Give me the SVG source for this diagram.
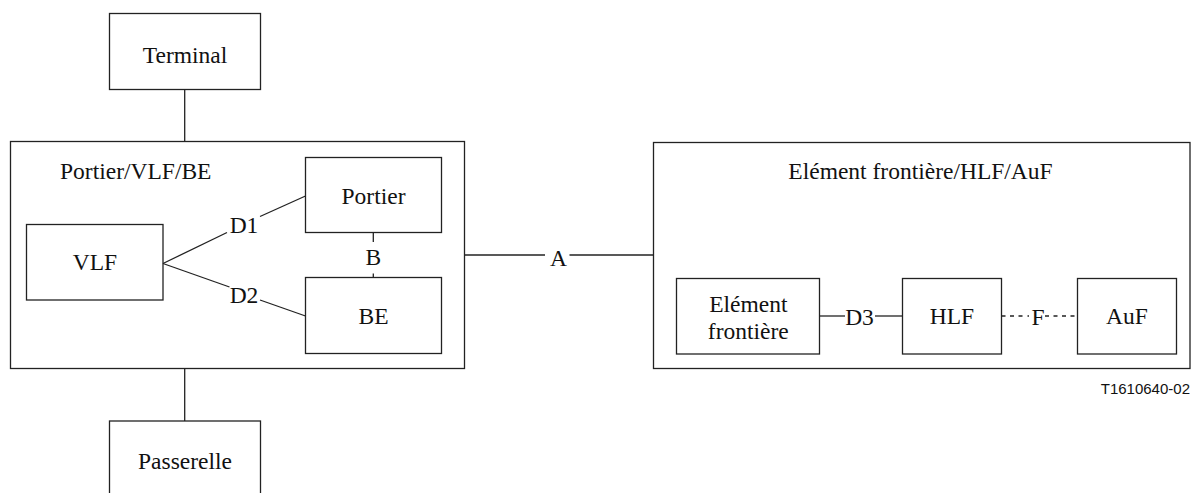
<svg xmlns="http://www.w3.org/2000/svg" width="1195" height="493" viewBox="0 0 1195 493">
  <style>
    .box { fill: none; stroke: #222; stroke-width: 1.3; }
    .ln { fill: none; stroke: #222; stroke-width: 1.3; }
    .dash { fill: none; stroke: #222; stroke-width: 1.3; stroke-dasharray: 4 4.5; }
    .t { font-family: "Liberation Serif", "Times New Roman", serif; font-size: 23.5px; fill: #111; text-anchor: middle; }
    .tl { font-family: "Liberation Serif", "Times New Roman", serif; font-size: 23.5px; fill: #111; }
    .ref { font-family: "Liberation Sans", Arial, sans-serif; font-size: 15px; fill: #111; text-anchor: end; }
  </style>

  <!-- connectors -->
  <g id="connectors">
    <!-- Terminal to Portier/VLF/BE -->
    <line class="ln" x1="184.7" y1="89.5" x2="184.7" y2="141.5"/>
    <!-- Portier/VLF/BE to Passerelle -->
    <line class="ln" x1="184.7" y1="368.5" x2="184.7" y2="421"/>
    <!-- D1: VLF to Portier -->
    <polyline class="ln" points="163,263.5 227,232.5"/>
    <line class="ln" x1="260" y1="216.5" x2="305.5" y2="196"/>
    <text class="t" x="244" y="233">D1</text>
    <!-- D2: VLF to BE -->
    <polyline class="ln" points="163,263.5 229.5,287"/>
    <line class="ln" x1="260" y1="300" x2="305.5" y2="316"/>
    <text class="t" x="244" y="302.5">D2</text>
    <!-- B: Portier to BE -->
    <line class="ln" x1="373.3" y1="232.5" x2="373.3" y2="242"/>
    <line class="ln" x1="373.3" y1="273.5" x2="373.3" y2="277.5"/>
    <text class="t" x="373.3" y="264.5">B</text>
    <!-- A: between the two groups -->
    <line class="ln" x1="464.5" y1="255" x2="545" y2="255"/>
    <line class="ln" x1="569.5" y1="255" x2="653.5" y2="255"/>
    <text class="t" x="558.5" y="265.5">A</text>
    <!-- D3: Elément frontière to HLF -->
    <line class="ln" x1="819.5" y1="316" x2="845" y2="316"/>
    <line class="ln" x1="875" y1="316" x2="902.5" y2="316"/>
    <text class="t" x="859.5" y="324.5">D3</text>
    <!-- F: HLF to AuF (dashed) -->
    <line class="dash" x1="1001.5" y1="316" x2="1024" y2="316"/>
    <line class="ln" x1="1027.5" y1="316" x2="1029" y2="316"/>
    <line class="dash" x1="1045" y1="316" x2="1077.5" y2="316"/>
    <text class="t" x="1038" y="324.5">F</text>
  </g>

  <g id="terminal">
    <rect class="box" x="109.5" y="13.5" width="151" height="76"/>
    <text class="t" x="185" y="62.5">Terminal</text>
  </g>

  <g id="portier-vlf-be">
    <rect class="box" x="10.5" y="141.5" width="454" height="227"/>
    <text class="tl" x="60" y="179">Portier/VLF/BE</text>
  </g>

  <g id="portier">
    <rect class="box" x="305.5" y="157.5" width="136" height="75"/>
    <text class="t" x="373.5" y="204">Portier</text>
  </g>

  <g id="vlf">
    <rect class="box" x="26.5" y="224.5" width="136.5" height="75.5"/>
    <text class="t" x="95" y="270">VLF</text>
  </g>

  <g id="be">
    <rect class="box" x="305.5" y="277.5" width="136" height="76"/>
    <text class="t" x="373.5" y="323.5">BE</text>
  </g>

  <g id="passerelle">
    <rect class="box" x="109.5" y="421" width="151" height="100"/>
    <text class="t" x="185" y="468.5">Passerelle</text>
  </g>

  <g id="element-frontiere-hlf-auf">
    <rect class="box" x="653.5" y="142.5" width="536.5" height="226"/>
    <text class="t" x="920.5" y="179">Elément frontière/HLF/AuF</text>
  </g>

  <g id="element-frontiere">
    <rect class="box" x="676.5" y="278.5" width="143" height="75.5"/>
    <text class="t" x="748.3" y="312">Elément</text>
    <text class="t" x="748.3" y="338.5">frontière</text>
  </g>

  <g id="hlf">
    <rect class="box" x="902.5" y="278.5" width="99" height="75.5"/>
    <text class="t" x="952" y="324">HLF</text>
  </g>

  <g id="auf">
    <rect class="box" x="1077.5" y="278.5" width="99" height="75.5"/>
    <text class="t" x="1127" y="324">AuF</text>
  </g>

  <text class="ref" x="1190" y="393.5">T1610640-02</text>
</svg>
